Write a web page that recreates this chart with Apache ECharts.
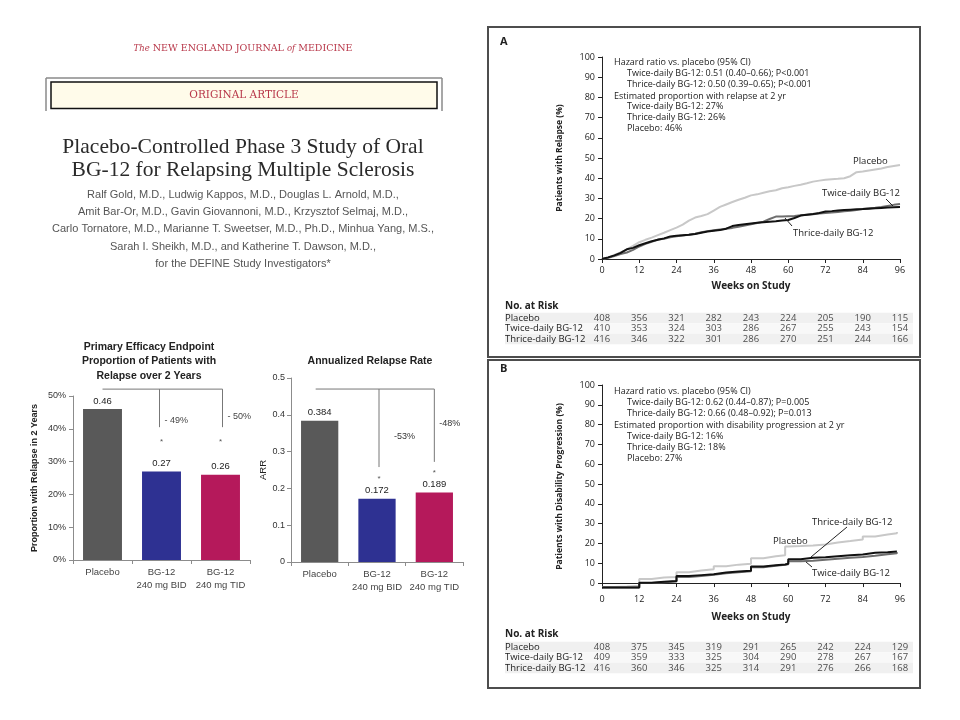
<!DOCTYPE html>
<html><head><meta charset="utf-8">
<script src="https://cdn.jsdelivr.net/npm/echarts@6/dist/echarts.min.js"></script>
<style>html,body{margin:0;padding:0;background:#fff}#c{width:960px;height:720px}</style>
</head><body><div id="c"></div>
<script>
// ---------- DATA ----------
const barCategories = ['Placebo', 'BG-12\n240 mg BID', 'BG-12\n240 mg TID'];
const relapseProportion = [0.46, 0.27, 0.26];
const annualizedRelapseRate = [0.384, 0.172, 0.189];
const relapseReductionText = ['- 49%', '- 50%'];
const arrReductionText = ['-53%', '-48%'];

const kmWeeksA = [0,2,4,6,8,10,12,14,16,18,20,22,24,26,28,30,32,34,36,38,40,42,44,46,48,50,52,54,56,58,60,62,64,66,68,70,72,74,76,78,80,82,84,86,88,90,92,94,96];
const placeboRelapseA = [0,0.8,2,3.3,4.8,6.5,8.3,9.5,10.6,11.8,13,14.3,15.5,17,19,20.5,21.3,22.2,24,25.8,27,28.2,29.3,30.3,31.5,32,32.8,33.5,34,35,35.5,36.2,36.8,37.5,38.3,38.8,39.2,39.5,39.7,40,41,43,43.3,43.8,44.3,44.8,45.5,46,46.5];
const twiceRelapseA = [0,0.6,1.5,2.5,3.2,4.5,6.2,7.5,8.5,9.6,10,10.8,11.3,11.6,12,12.5,13.2,13.8,14.2,14.6,15,15.4,16,16.6,17.2,17.8,18.5,19.8,21,21.1,21.2,21.3,21.6,21.9,22.2,22.5,22.8,23,23.3,23.6,23.9,24.3,24.8,25.1,25.4,25.8,26.3,26.8,27.2];
const thriceRelapseA = [0,0.8,1.8,3,4.8,5.5,6.8,7.8,8.8,9.5,10.2,11.2,11.5,11.8,12,12.4,13,13.6,14,14.3,15,16.3,16.8,17.2,17.6,17.9,18.2,18.5,18.7,19,19.3,20.3,21.5,21.9,22.3,22.8,23.5,23.7,24,24.2,24.4,24.6,24.7,24.9,25.1,25.3,25.5,25.6,25.7];

const kmWeeksB = [0,4,8,12,16,20,24,28,32,36,40,44,48,52,56,59,60,64,68,72,76,80,84,88,92,95];
const placeboProgB = [-2,-1.8,-1.4,2,2.8,3,5.5,6.3,7,8.5,9.3,9.8,12.5,13.5,14,18.5,18.7,19,19.5,20.5,21.2,22,23.5,24.5,25.2,25.8];
const twiceProgB = [-2.3,-2.3,-2.2,0,0.4,0.8,3,3.6,4.2,5,5.5,6,8,8.7,9.2,9.5,11,11.3,11.8,12.3,12.8,13.2,13.8,14.5,15,15.5];
const thriceProgB = [-2.3,-2.3,-2.2,0.2,0.6,1,3.5,4,4.5,5.3,5.8,6.2,8.3,9,9.4,9.7,12,12.8,13,13.5,14,14.4,15.3,15.6,15.9,16];

const weekTicks = [0,12,24,36,48,60,72,84,96];
const percentTicks = [0,10,20,30,40,50,60,70,80,90,100];
const riskRows = ['Placebo', 'Twice-daily BG-12', 'Thrice-daily BG-12'];
const riskA_placebo = [408,356,321,282,243,224,205,190,115];
const riskA_twice = [410,353,324,303,286,267,255,243,154];
const riskA_thrice = [416,346,322,301,286,270,251,244,166];
const riskB_placebo = [408,375,345,319,291,265,242,224,129];
const riskB_twice = [409,359,333,325,304,290,278,267,167];
const riskB_thrice = [416,360,346,325,314,291,276,266,168];

const annotA = ['Hazard ratio vs. placebo (95% CI)', 'Twice-daily BG-12: 0.51 (0.40\u20130.66); P<0.001', 'Thrice-daily BG-12: 0.50 (0.39\u20130.65); P<0.001', 'Estimated proportion with relapse at 2 yr', 'Twice-daily BG-12: 27%', 'Thrice-daily BG-12: 26%', 'Placebo: 46%'];
const annotB = ['Hazard ratio vs. placebo (95% CI)', 'Twice-daily BG-12: 0.62 (0.44\u20130.87); P=0.005', 'Thrice-daily BG-12: 0.66 (0.48\u20130.92); P=0.013', 'Estimated proportion with disability progression at 2 yr', 'Twice-daily BG-12: 16%', 'Thrice-daily BG-12: 18%', 'Placebo: 27%'];
const authors = ['Ralf Gold, M.D., Ludwig Kappos, M.D., Douglas L. Arnold, M.D.,', 'Amit Bar-Or, M.D., Gavin Giovannoni, M.D., Krzysztof Selmaj, M.D.,', 'Carlo Tornatore, M.D., Marianne T. Sweetser, M.D., Ph.D., Minhua Yang, M.S.,', 'Sarah I. Sheikh, M.D., and Katherine T. Dawson, M.D.,', 'for the DEFINE Study Investigators*'];

// ---------- STYLE ----------
const barColors = ['#595959', '#2e3192', '#b5195b'];
const SANS = 'Liberation Sans, Arial, sans-serif';
const FIG = 'Open Sans, Noto Sans, sans-serif';
const SERIF = 'Liberation Serif, DejaVu Serif, serif';
const WSERIF = 'DejaVu Serif, serif';
const RED = '#b8384a';

const chart = echarts.init(document.getElementById('c'));

function barAxisX(g) {
  return { type: 'category', gridIndex: g, data: barCategories,
    axisLine: { lineStyle: { color: '#8c8c8c' } },
    axisTick: { show: true, length: 4, lineStyle: { color: '#8c8c8c' } },
    axisLabel: { interval: 0, color: '#444', fontSize: 9.5, fontFamily: SANS, lineHeight: 13, margin: 6 } };
}
function kmAxisX(g, gap) {
  return { type: 'value', gridIndex: g, min: 0, max: 96, interval: 12,
    axisLine: { lineStyle: { color: '#222' } },
    axisTick: { show: true, length: 4, lineStyle: { color: '#222' } },
    axisLabel: { color: '#222', fontSize: 9, fontFamily: FIG, margin: 7 },
    splitLine: { show: false },
    name: 'Weeks on Study', nameLocation: 'middle', nameGap: gap,
    nameTextStyle: { color: '#222', fontSize: 10, fontWeight: 'bold', fontFamily: FIG } };
}
function kmAxisY(g, name, min) {
  return { type: 'value', gridIndex: g, min: min, max: 100,
    axisLine: { show: true, lineStyle: { color: '#222' } },
    axisTick: { show: true, length: 4, lineStyle: { color: '#222' }, customValues: percentTicks },
    axisLabel: { color: '#222', fontSize: 9, fontFamily: FIG, margin: 7, customValues: percentTicks },
    splitLine: { show: false },
    name: name, nameLocation: 'middle', nameGap: 38,
    nameTextStyle: { color: '#222', fontSize: 8.5, fontWeight: 'bold', fontFamily: FIG } };
}
function tableAxisX(g) {
  return { type: 'value', gridIndex: g, min: -31.25, max: 100.19, show: false };
}
function tableAxisY(g) {
  return { type: 'category', gridIndex: g, data: riskRows, inverse: true,
    axisLine: { show: false }, axisTick: { show: false },
    axisLabel: { interval: 0, inside: true, margin: 0, color: '#222', fontSize: 9.5, fontFamily: FIG },
    splitLine: { show: false },
    splitArea: { show: true, interval: 0, areaStyle: { color: ['#f0f0f0', '#f8f8f8'] } } };
}
function km(weeks, vals, color, x, step, z) {
  return { type: 'line', xAxisIndex: x, yAxisIndex: x, data: weeks.map((w, i) => [w, vals[i]]),
    showSymbol: false, step: step, silent: true, z: z, clip: false,
    lineStyle: { color: color, width: 2 } };
}
function riskSeries(g, rowsVals) {
  const data = [];
  riskRows.forEach((r, ri) => weekTicks.forEach((w, wi) => data.push([w, r, rowsVals[ri][wi]])));
  return { type: 'scatter', xAxisIndex: g, yAxisIndex: g, data: data, symbolSize: 1, silent: true,
    itemStyle: { color: 'rgba(0,0,0,0)' },
    label: { show: true, position: 'inside', formatter: p => String(p.data[2]), color: '#222', fontSize: 9.5, fontFamily: FIG } };
}

const option = {
  animation: false,
  backgroundColor: '#ffffff',
  grid: [
    { left: 73, top: 396, width: 177, height: 164 },
    { left: 291, top: 378, width: 172, height: 184 },
    { left: 602, top: 57, width: 298, height: 202 },
    { left: 602, top: 385, width: 298, height: 203 },
    { left: 505, top: 312.75, width: 408, height: 31.5 },
    { left: 505, top: 641.75, width: 408, height: 31.5 }
  ],
  xAxis: [barAxisX(0), barAxisX(1), kmAxisX(2, 22), kmAxisX(3, 24), tableAxisX(4), tableAxisX(5)],
  yAxis: [
    { type: 'value', gridIndex: 0, min: 0, max: 0.5, interval: 0.1,
      axisLine: { show: true, lineStyle: { color: '#8c8c8c' } },
      axisTick: { show: true, length: 4, lineStyle: { color: '#8c8c8c' } },
      axisLabel: { color: '#333', fontSize: 9, fontFamily: SANS, margin: 7, formatter: v => Math.round(v * 100) + '%' },
      splitLine: { show: false },
      name: 'Proportion with Relapse in 2 Years', nameLocation: 'middle', nameGap: 34,
      nameTextStyle: { color: '#222', fontSize: 9, fontWeight: 'bold', fontFamily: SANS } },
    { type: 'value', gridIndex: 1, min: 0, max: 0.5, interval: 0.1,
      axisLine: { show: true, lineStyle: { color: '#8c8c8c' } },
      axisTick: { show: true, length: 4, lineStyle: { color: '#8c8c8c' } },
      axisLabel: { color: '#333', fontSize: 9, fontFamily: SANS, margin: 6 },
      splitLine: { show: false },
      name: 'ARR', nameLocation: 'middle', nameGap: 22,
      nameTextStyle: { color: '#222', fontSize: 9.5, fontFamily: SANS } },
    kmAxisY(2, 'Patients with Relapse (%)', 0),
    kmAxisY(3, 'Patients with Disability Progression (%)', -2.5),
    tableAxisY(4), tableAxisY(5)
  ],
  series: [
    { type: 'bar', xAxisIndex: 0, yAxisIndex: 0, barCategoryGap: '34%', silent: true,
      data: relapseProportion.map((v, i) => ({ value: v, itemStyle: { color: barColors[i] } })),
      label: { show: true, position: 'top', distance: 3, color: '#222', fontSize: 9.5, fontFamily: SANS, formatter: p => p.value.toFixed(2) } },
    { type: 'bar', xAxisIndex: 1, yAxisIndex: 1, barCategoryGap: '35%', silent: true,
      data: annualizedRelapseRate.map((v, i) => ({ value: v, itemStyle: { color: barColors[i] } })),
      label: { show: true, position: 'top', distance: 3, color: '#222', fontSize: 9.5, fontFamily: SANS, formatter: p => p.value.toFixed(3) } },
    km(kmWeeksA, placeboRelapseA, '#c8c8c8', 2, false, 3),
    km(kmWeeksA, twiceRelapseA, '#6e6e6e', 2, false, 4),
    km(kmWeeksA, thriceRelapseA, '#111111', 2, false, 5),
    km(kmWeeksB, placeboProgB, '#c8c8c8', 3, 'end', 3),
    km(kmWeeksB, twiceProgB, '#6e6e6e', 3, 'end', 4),
    km(kmWeeksB, thriceProgB, '#111111', 3, 'end', 5),
    riskSeries(4, [riskA_placebo, riskA_twice, riskA_thrice]),
    riskSeries(5, [riskB_placebo, riskB_twice, riskB_thrice])
  ]
};
chart.setOption(option);

// ---------- ANNOTATIONS ----------
const G = [];
function T(text, x, y, o) {
  o = o || {};
  const st = { text: text, fill: o.fill || '#222', fontSize: o.size || 9, fontFamily: o.family || FIG,
    fontWeight: o.weight || 'normal', fontStyle: o.fstyle || 'normal',
    align: o.align || 'left', verticalAlign: 'middle', textAlign: o.align || 'left', textVerticalAlign: 'middle' };
  if (o.rich) st.rich = o.rich;
  G.push({ type: 'text', x: x, y: y, silent: true, z: 10, style: st });
}
function L(x1, y1, x2, y2, stroke, w) {
  G.push({ type: 'line', silent: true, z: 10, shape: { x1: x1, y1: y1, x2: x2, y2: y2 }, style: { stroke: stroke || '#222', lineWidth: w || 1 } });
}
function R(x, y, w, h, stroke, lw, fill) {
  G.push({ type: 'rect', silent: true, z: 1, shape: { x: x, y: y, width: w, height: h }, style: { stroke: stroke, lineWidth: lw, fill: fill || 'none' } });
}

// journal header
T('{i|The} {c|NEW ENGLAND JOURNAL} {i|of} {c|MEDICINE}', 243, 49, { align: 'center', fill: RED, family: WSERIF, size: 9.5,
  rich: { i: { fontStyle: 'italic', fontFamily: WSERIF, fontSize: 8.5, fill: RED, color: RED }, c: { fontFamily: WSERIF, fontSize: 9.5, fill: RED, color: RED } } });
L(46, 78, 442, 78, '#8a8a8a', 1.5);
L(46, 78, 46, 111, '#8a8a8a', 1.5);
L(442, 78, 442, 111, '#8a8a8a', 1.5);
R(51, 82, 386, 26.5, '#111', 1.5, '#fffbea');
T('ORIGINAL ARTICLE', 244, 95, { align: 'center', fill: RED, family: WSERIF, size: 10.5 });
T('Placebo-Controlled Phase 3 Study of Oral', 243, 147, { align: 'center', fill: '#2a2a2a', family: SERIF, size: 21.5 });
T('BG-12 for Relapsing Multiple Sclerosis', 243, 170, { align: 'center', fill: '#2a2a2a', family: SERIF, size: 21.5 });
authors.forEach((a, i) => T(a, 243, 195 + i * 17.2, { align: 'center', fill: '#555', family: SANS, size: 11 }));

// bar chart titles
['Primary Efficacy Endpoint', 'Proportion of Patients with', 'Relapse over 2 Years'].forEach((t, i) =>
  T(t, 149, 347 + i * 14.5, { align: 'center', weight: 'bold', size: 10.5, family: SANS }));
T('Annualized Relapse Rate', 370, 361, { align: 'center', weight: 'bold', size: 10.5, family: SANS });

// brackets
const px = (g, x, y) => chart.convertToPixel({ gridIndex: g }, [x, y]);
(function () {
  const a = px(0, 0, 0.521), b = px(0, 2, 0.521), c = px(0, 1, 0.521), c2 = px(0, 1, 0.405), d2 = px(0, 2, 0.405);
  L(a[0], a[1], b[0] + 2, b[1], '#777');
  L(c[0] - 2, c[1], c2[0] - 2, c2[1], '#777');
  L(b[0] + 2, b[1], d2[0] + 2, d2[1], '#777');
  T(relapseReductionText[0], c[0] + 3, 421, { fill: '#444', size: 9, family: SANS });
  T(relapseReductionText[1], b[0] + 7, 417, { fill: '#444', size: 9, family: SANS });
  T('*', c[0], 442, { align: 'center', fill: '#555', size: 8, family: SANS });
  T('*', b[0], 442, { align: 'center', fill: '#555', size: 8, family: SANS });
  const e = px(1, 0, 0.47), f = px(1, 2, 0.47), g1 = px(1, 1, 0.47), g2 = px(1, 1, 0.258), h2 = px(1, 2, 0.272);
  L(e[0] - 4, e[1], f[0], f[1], '#777');
  L(g1[0] + 2, g1[1], g2[0] + 2, g2[1], '#777');
  L(f[0], f[1], h2[0], h2[1], '#777');
  T(arrReductionText[0], g1[0] + 17, 437, { fill: '#333', size: 9, family: SANS });
  T(arrReductionText[1], f[0] + 5, 424, { fill: '#333', size: 9, family: SANS });
  T('*', g1[0] + 2, 479, { align: 'center', fill: '#555', size: 8, family: SANS });
  T('*', f[0], 473, { align: 'center', fill: '#555', size: 8, family: SANS });
})();

// panel frames
R(488, 27, 432, 330, '#4d4d4d', 2);
R(488, 360, 432, 328, '#4d4d4d', 2);
T('A', 500, 42, { weight: 'bold', size: 11 });
T('B', 500, 369, { weight: 'bold', size: 11 });
const annYA = [62, 73.3, 84.5, 96, 106.7, 117.5, 128.7];
annotA.forEach((t, i) => T(t, (i === 0 || i === 3) ? 614 : 627, annYA[i], { size: 9 }));
const annYB = [391.7, 402.7, 413.5, 425, 436, 447.3, 458.3];
annotB.forEach((t, i) => T(t, (i === 0 || i === 3) ? 614 : 627, annYB[i], { size: 9 }));

// curve labels A
T('Placebo', 853, 161, { size: 9.5 });
T('Twice-daily BG-12', 822, 193, { size: 9.5 });
T('Thrice-daily BG-12', 793, 233, { size: 9.5 });
L(785, 218, 792, 226, '#222');
L(886, 199, 893, 206, '#222');
// curve labels B
T('Thrice-daily BG-12', 812, 522, { size: 9.5 });
T('Placebo', 773, 541, { size: 9.5 });
T('Twice-daily BG-12', 812, 573, { size: 9.5 });
L(847, 527, 811, 557, '#222');
L(812, 567, 806, 562, '#222');

T('No. at Risk', 505, 306, { weight: 'bold', size: 10 });
T('No. at Risk', 505, 634.5, { weight: 'bold', size: 10 });

chart.setOption({ graphic: { elements: G } });
</script>
</body></html>
